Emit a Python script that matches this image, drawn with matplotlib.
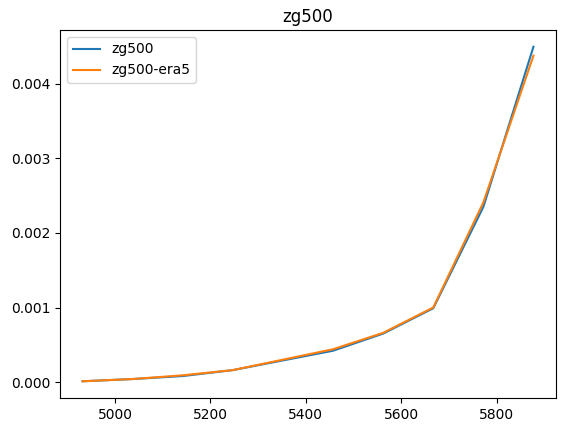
import matplotlib
matplotlib.use('Agg')
import matplotlib.pyplot as plt

# bin centres and normalised frequencies
bins = [4932, 5037, 5142, 5247, 5352, 5457, 5562, 5667, 5772, 5877]
zg500 = [0.00001, 0.00004, 0.00008, 0.00016, 0.00029, 0.00042, 0.00065, 0.00099, 0.00235, 0.00450]
zg500_era5 = [0.00001, 0.00004, 0.00009, 0.00016, 0.00030, 0.00044, 0.00066, 0.00100, 0.00241, 0.00438]

fig = plt.figure(figsize=(5.65, 4.33), dpi=100)
ax = fig.add_axes([60 / 565, 35 / 433, 496 / 565, 368 / 433])

ax.plot(bins, zg500, label='zg500')
ax.plot(bins, zg500_era5, label='zg500-era5')
ax.set_title('zg500')
ax.legend(loc='upper left')

fig.savefig('out.png', dpi=100)
